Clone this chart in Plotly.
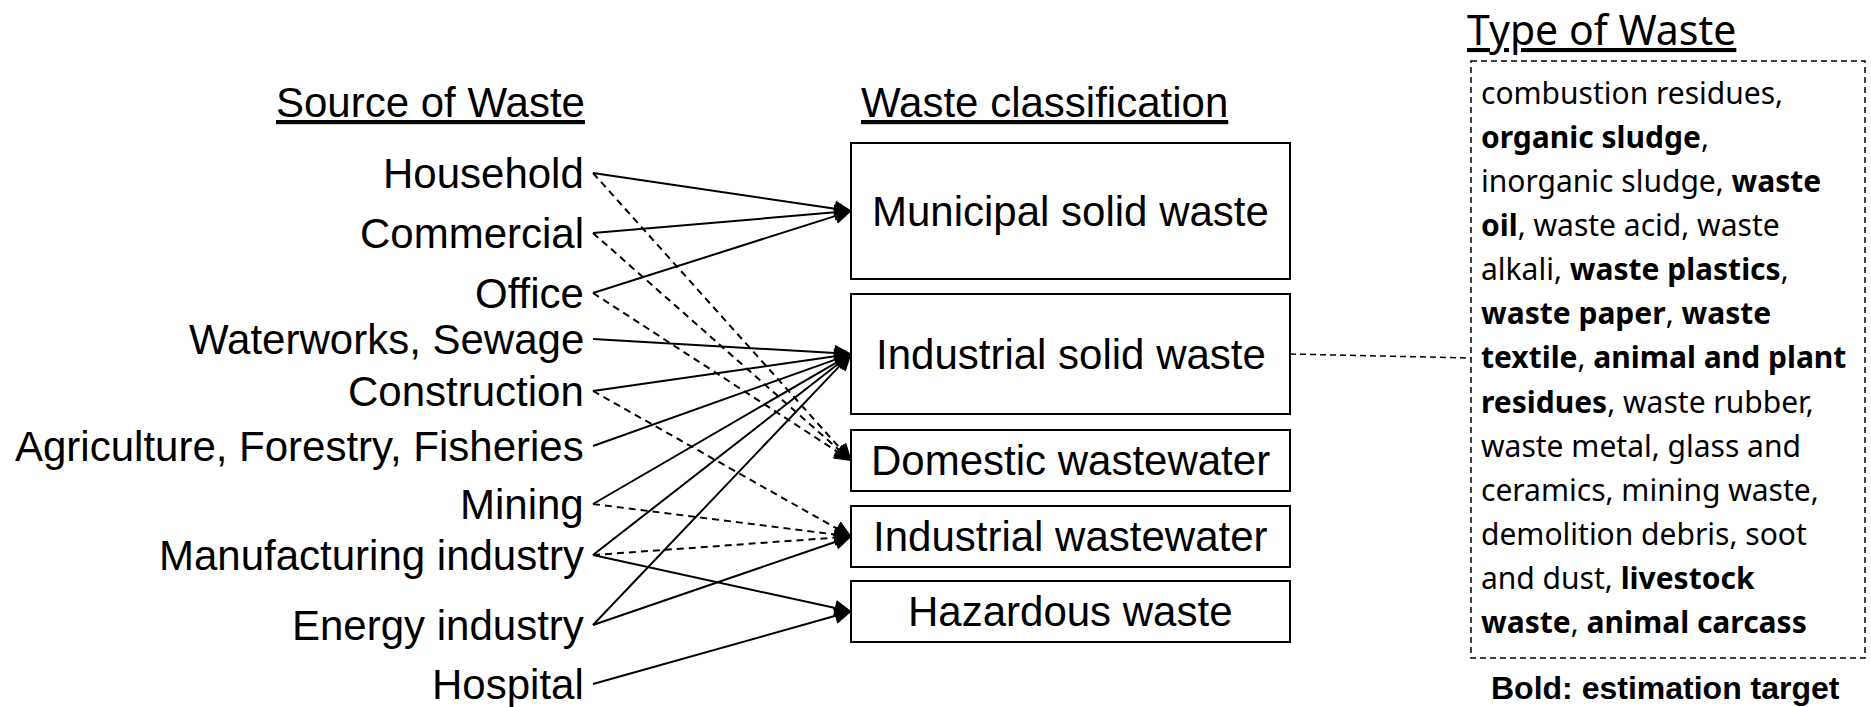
import math
import plotly.graph_objects as go

# ---------------- data ----------------
SOURCES = ["Household", "Commercial", "Office", "Waterworks, Sewage", "Construction",
           "Agriculture, Forestry, Fisheries", "Mining", "Manufacturing industry",
           "Energy industry", "Hospital"]
CLASSES = ["Municipal solid waste", "Industrial solid waste", "Domestic wastewater",
           "Industrial wastewater", "Hazardous waste"]
EDGE_FROM = ["Household", "Commercial", "Office",
             "Household", "Commercial", "Office",
             "Waterworks, Sewage", "Construction", "Construction",
             "Agriculture, Forestry, Fisheries", "Mining", "Mining",
             "Manufacturing industry", "Manufacturing industry", "Manufacturing industry",
             "Energy industry", "Energy industry", "Hospital"]
EDGE_TO = ["Municipal solid waste", "Municipal solid waste", "Municipal solid waste",
           "Domestic wastewater", "Domestic wastewater", "Domestic wastewater",
           "Industrial solid waste", "Industrial solid waste", "Industrial wastewater",
           "Industrial solid waste", "Industrial solid waste", "Industrial wastewater",
           "Industrial solid waste", "Industrial wastewater", "Hazardous waste",
           "Industrial solid waste", "Industrial wastewater", "Hazardous waste"]
EDGE_DASHED = [False, False, False,
               True, True, True,
               False, False, True,
               False, False, True,
               False, True, False,
               False, False, False]
TYPE_LINES = [
    "combustion residues,",
    "<b>organic sludge</b>,",
    "inorganic sludge, <b>waste</b>",
    "<b>oil</b>, waste acid, waste",
    "alkali, <b>waste plastics</b>,",
    "<b>waste paper</b>, <b>waste</b>",
    "<b>textile</b>, <b>animal and plant</b>",
    "<b>residues</b>, waste rubber,",
    "waste metal, glass and",
    "ceramics, mining waste,",
    "demolition debris, soot",
    "and dust, <b>livestock</b>",
    "<b>waste</b>, <b>animal carcass</b>",
]
TITLE_SOURCE = "Source of Waste"
TITLE_CLASS = "Waste classification"
TITLE_TYPE = "Type of Waste"
NOTE = "Bold: estimation target"
TYPE_LINKED_CLASS = "Industrial solid waste"

# ---------------- layout (pixels) ----------------
W, H = 1871, 707
ARIAL = "Liberation Sans, Arial, sans-serif"
GOTHIC = "Noto Sans, sans-serif"
SRC_TEXT_X = 585
SRC_LINE_X = 593
SRC_Y = [173, 233, 293, 339, 391, 446, 504, 555, 625, 684]
BOX_X0, BOX_X1 = 851, 1290
BOX_Y = [(143, 279), (294, 414), (430, 491), (506, 567), (581, 642)]
TYPE_BOX = (1471, 61, 1865, 658)
TYPE_TEXT_X = 1480
TYPE_BASE0, TYPE_STEP = 104, 44.1
TYPE_FS = 30
ARROW_L, ARROW_W = 16, 7.5

src_pos = {s: (SRC_LINE_X, y) for s, y in zip(SOURCES, SRC_Y)}
cls_pos = {c: (BOX_X0, (y0 + y1) / 2) for c, (y0, y1) in zip(CLASSES, BOX_Y)}

fig = go.Figure()

solid_x, solid_y, dash_x, dash_y, tri_x, tri_y = [], [], [], [], [], []
for f, t, d in zip(EDGE_FROM, EDGE_TO, EDGE_DASHED):
    x0, y0 = src_pos[f]
    x1, y1 = cls_pos[t]
    dx, dy = x1 - x0, y1 - y0
    n = math.hypot(dx, dy)
    ux, uy = dx / n, dy / n
    bx, by = x1 - ARROW_L * ux, y1 - ARROW_L * uy
    if d:
        dash_x += [x0, bx, None]
        dash_y += [y0, by, None]
    else:
        solid_x += [x0, bx, None]
        solid_y += [y0, by, None]
    px, py = -uy, ux
    tri_x += [x1, bx + ARROW_W * px, bx - ARROW_W * px, x1, None]
    tri_y += [y1, by + ARROW_W * py, by - ARROW_W * py, y1, None]

fig.add_trace(go.Scatter(x=solid_x, y=solid_y, mode="lines",
                         line=dict(color="black", width=2), hoverinfo="skip"))
fig.add_trace(go.Scatter(x=dash_x, y=dash_y, mode="lines",
                         line=dict(color="black", width=2, dash="7px,5px"), hoverinfo="skip"))
fig.add_trace(go.Scatter(x=tri_x, y=tri_y, mode="lines", fill="toself",
                         fillcolor="black", line=dict(color="black", width=1),
                         hoverinfo="skip"))

shapes = []
for c, (y0, y1) in zip(CLASSES, BOX_Y):
    shapes.append(dict(type="rect", xref="x", yref="y", x0=BOX_X0, x1=BOX_X1, y0=y0, y1=y1,
                       line=dict(color="black", width=2), fillcolor="rgba(0,0,0,0)"))
tx0, ty0, tx1, ty1 = TYPE_BOX
shapes.append(dict(type="rect", xref="x", yref="y", x0=tx0, y0=ty0, x1=tx1, y1=ty1,
                   line=dict(color="black", width=1.5, dash="6px,4px")))
_, ly = cls_pos[TYPE_LINKED_CLASS]
shapes.append(dict(type="line", xref="x", yref="y", x0=BOX_X1, y0=ly, x1=tx0, y1=ly + 4,
                   line=dict(color="black", width=1.5, dash="6px,4px")))

ann = []
for s, y in zip(SOURCES, SRC_Y):
    ann.append(dict(x=SRC_TEXT_X, y=y, text=s, xanchor="right", yanchor="middle",
                    showarrow=False, font=dict(family=ARIAL, size=42, color="black")))
for c, (y0, y1) in zip(CLASSES, BOX_Y):
    ann.append(dict(x=(BOX_X0 + BOX_X1) / 2, y=(y0 + y1) / 2, text=c, xanchor="center",
                    yanchor="middle", showarrow=False,
                    font=dict(family=ARIAL, size=42, color="black")))
ann.append(dict(x=586, y=102, text="<u>" + TITLE_SOURCE + "</u>", xanchor="right",
                yanchor="middle", showarrow=False, font=dict(family=ARIAL, size=42, color="black")))
ann.append(dict(x=860, y=102, text="<u>" + TITLE_CLASS + "</u>", xanchor="left",
                yanchor="middle", showarrow=False, font=dict(family=ARIAL, size=42, color="black")))
ann.append(dict(x=1466, y=45 - 0.388 * 41, text="<u>" + TITLE_TYPE + "</u>", xanchor="left",
                yanchor="middle", showarrow=False, font=dict(family=GOTHIC, size=41, color="black")))
for i, line in enumerate(TYPE_LINES):
    base = TYPE_BASE0 + TYPE_STEP * i
    ann.append(dict(x=TYPE_TEXT_X, y=base - 0.388 * TYPE_FS, text=line, xanchor="left",
                    yanchor="middle", showarrow=False,
                    font=dict(family=GOTHIC, size=TYPE_FS, color="black")))
ann.append(dict(x=1665, y=699 - 0.3465 * 32, text="<b>" + NOTE + "</b>", xanchor="center",
                yanchor="middle", showarrow=False, font=dict(family=ARIAL, size=32, color="black")))
for a in ann:
    a.update(xref="x", yref="y", borderpad=0)

fig.update_layout(
    width=W, height=H, margin=dict(l=0, r=0, t=0, b=0),
    paper_bgcolor="white", plot_bgcolor="white", showlegend=False,
    xaxis=dict(range=[0, W], visible=False, fixedrange=True),
    yaxis=dict(range=[H, 0], visible=False, fixedrange=True),
    shapes=shapes, annotations=ann,
)

fig.write_html("out.html", config={"displayModeBar": False},
               post_script="document.body.style.margin='0';document.body.style.overflow='hidden';")
